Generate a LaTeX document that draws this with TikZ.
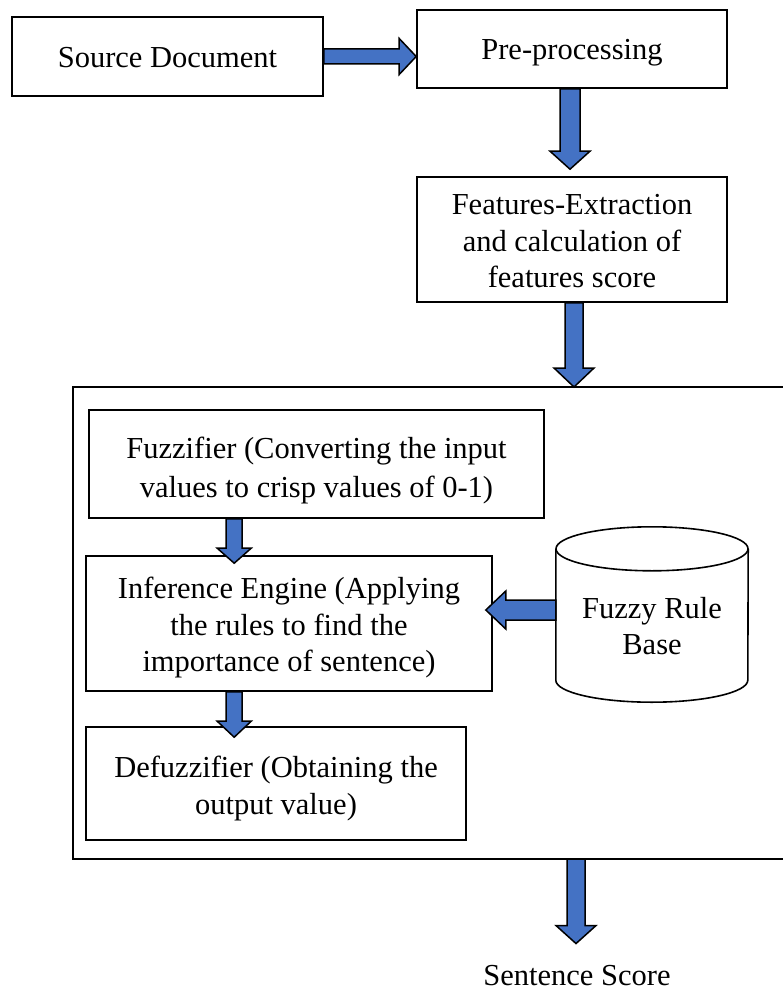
\documentclass[tikz,border=0pt]{standalone}
\usepackage{fontspec}
\setmainfont{Liberation Serif}
\usetikzlibrary{calc}
\definecolor{ablue}{HTML}{4472C4}
\tikzset{
  box/.style={draw, line width=1.6pt, inner sep=0pt},
  txt/.style={align=center, inner sep=0pt, font=\fontsize{30.5}{36.5}\selectfont},
  barrow/.style={fill=ablue, draw=black, line width=1.5pt, line join=miter},
  frameline/.style={line width=1.6pt}
}
\newcommand\vblock[5]{\filldraw[barrow] let \p1=(#1), \p2=(#2) in (\x1-#3,\y1) -- (\x1-#3,\y2+#5) -- (\x1-#4,\y2+#5) -- (\x1,\y2) -- (\x1+#4,\y2+#5) -- (\x1+#3,\y2+#5) -- (\x1+#3,\y1) -- cycle;}
\newcommand\rblock[5]{\filldraw[barrow] let \p1=(#1), \p2=(#2) in (\x1,\y1+#3) -- (\x2-#5,\y1+#3) -- (\x2-#5,\y1+#4) -- (\x2,\y1) -- (\x2-#5,\y1-#4) -- (\x2-#5,\y1-#3) -- (\x1,\y1-#3) -- cycle;}
\newcommand\lblock[5]{\filldraw[barrow] let \p1=(#1), \p2=(#2) in (\x1,\y1+#3) -- (\x2+#5,\y1+#3) -- (\x2+#5,\y1+#4) -- (\x2,\y1) -- (\x2+#5,\y1-#4) -- (\x2+#5,\y1-#3) -- (\x1,\y1-#3) -- cycle;}
\begin{document}
\begin{tikzpicture}[x=1pt,y=-1pt]
\useasboundingbox (0,0) rectangle (782,992);
% top boxes
\node[box, minimum width=311pt, minimum height=79pt] (src) at (167.5,56.5) {};
\node[txt] (srct) at (167.5,57.5) {Source Document};
\node[box, minimum width=310pt, minimum height=78pt] (pre) at (572,49) {};
\node[txt] (pret) at (572,53) {Pre-processing};
\node[box, minimum width=310pt, minimum height=125pt] (feat) at (572,239.5) {};
\node[txt] (featt) at (572,241.5) {Features-Extraction\\and calculation of\\features score};
% outer frame (open on the right)
\draw[frameline] (795,387) -- (73,387) -- (73,859) -- (795,859);
\coordinate (ftop) at (574,387);
\coordinate (fbot) at (576,859);
% inner boxes
\node[box, minimum width=455pt, minimum height=108pt] (fuzz) at (316.5,464) {};
\node[txt, font=\fontsize{30.5}{39.5}\selectfont] (fuzzt) at (316.5,470.5) {Fuzzifier (Converting the input\\values to crisp values of 0-1)};
\node[box, minimum width=406pt, minimum height=135pt] (inf) at (289,623.5) {};
\node[txt] (inft) at (289,628) {Inference Engine (Applying\\the rules to find the\\importance of sentence)};
\node[box, minimum width=380pt, minimum height=113pt] (defuzz) at (276,783.5) {};
\node[txt] (defuzzt) at (276,788.5) {Defuzzifier (Obtaining the\\output value)};
% cylinder
\node[minimum width=192pt, minimum height=131pt, inner sep=0pt] (cyl) at (652,614.5) {};
\draw[frameline] (cyl.north west) -- (cyl.south west) arc[start angle=180, end angle=0, x radius=96, y radius=22] -- (cyl.north east);
\draw[frameline] (cyl.north) ellipse[x radius=96, y radius=22];
\node[txt] (cyltext) at (652,626) {Fuzzy Rule\\Base};
% output label
\node[txt] (score) at (577,976) {Sentence Score};
% block arrows
\rblock{src.east}{pre.west}{7.5pt}{18pt}{17pt}
\vblock{$(pre.south)+(-2,0)$}{$(feat.north)+(0,-7)$}{10pt}{20pt}{18pt}
\vblock{$(feat.south)+(2,0)$}{ftop}{9pt}{20pt}{19pt}
\vblock{$(fuzz.south west)+(146,0)$}{$(inf.north)+(0,8)$}{8pt}{17pt}{15pt}
\vblock{$(inf.south west)+(149,0)$}{$(defuzz.north)+(0,11)$}{8pt}{17pt}{16pt}
\lblock{$(cyl.west)+(0,-4.5)$}{$(inf.east)+(-7,0)$}{10pt}{19pt}{20pt}
\vblock{fbot}{$(score.north)+(0,-22)$}{9pt}{20pt}{18pt}
\end{tikzpicture}
\end{document}
